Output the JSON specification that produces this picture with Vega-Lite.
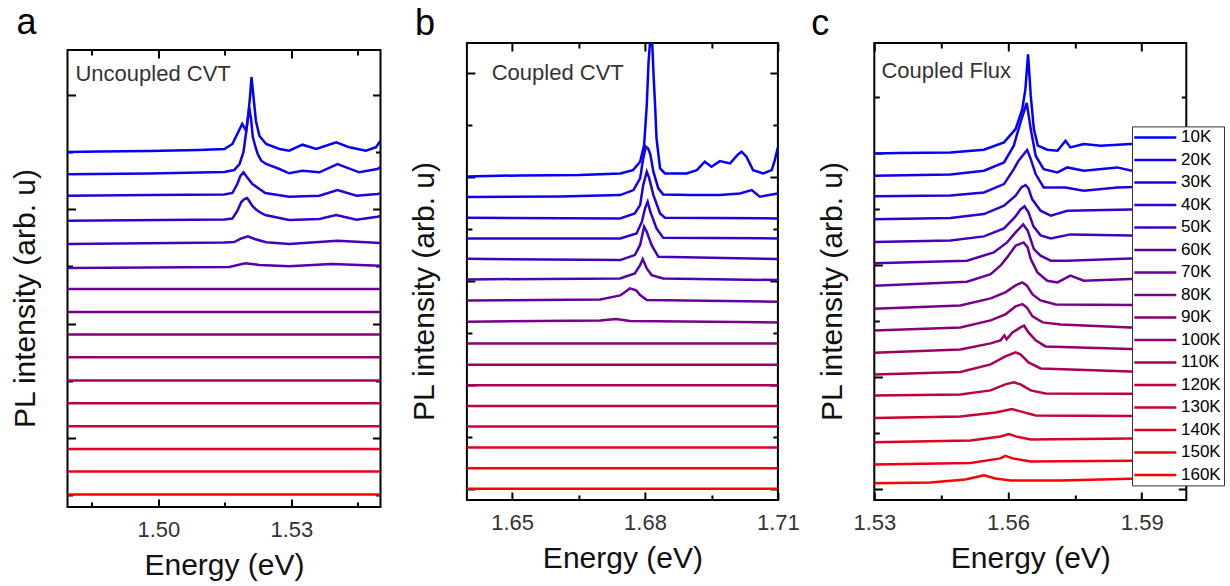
{
"$schema": "https://vega.github.io/schema/vega-lite/v6.json",
"background": "white",
"padding": {"left": 9.5, "top": 4, "right": 0, "bottom": 0},
"spacing": 9.4,
"resolve": {"scale": {"color": "independent"}, "legend": {"color": "independent"}},
"config": {
  "font": "Liberation Sans",
  "view": {"stroke": "black", "strokeWidth": 2},
  "axis": {"domain": false, "grid": false, "tickColor": "black", "tickWidth": 2, "labelFont": "Liberation Sans", "labelFontSize": 22, "labelColor": "#333", "titleFont": "Liberation Sans", "titleFontSize": 30, "titleFontWeight": "normal", "titleColor": "#111", "labelFlush": false, "labelOverlap": false, "labelPadding": 20.4},
  "title": {"font": "Liberation Sans", "fontSize": 36, "fontWeight": "normal", "color": "black", "anchor": "start", "frame": "group"}
},
"datasets": {
"a": [
{"T":"10K","E":1.4795,"v":355},{"T":"10K","E":1.4867,"v":355.5},{"T":"10K","E":1.498,"v":356},{"T":"10K","E":1.5092,"v":357},{"T":"10K","E":1.5149,"v":358},{"T":"10K","E":1.5167,"v":363},{"T":"10K","E":1.5178,"v":373},{"T":"10K","E":1.5189,"v":383},{"T":"10K","E":1.5198,"v":376},{"T":"10K","E":1.5203,"v":393},{"T":"10K","E":1.5207,"v":412},{"T":"10K","E":1.521,"v":430},{"T":"10K","E":1.5215,"v":408},{"T":"10K","E":1.522,"v":386},{"T":"10K","E":1.5228,"v":371},{"T":"10K","E":1.5243,"v":363},{"T":"10K","E":1.5273,"v":358},{"T":"10K","E":1.5295,"v":356.3},{"T":"10K","E":1.5325,"v":362.3},{"T":"10K","E":1.5356,"v":358},{"T":"10K","E":1.5401,"v":364.7},{"T":"10K","E":1.5431,"v":359.7},{"T":"10K","E":1.5468,"v":356.3},{"T":"10K","E":1.5491,"v":359.7},{"T":"10K","E":1.5501,"v":366.3},
{"T":"20K","E":1.4795,"v":332.7},{"T":"20K","E":1.498,"v":333.5},{"T":"20K","E":1.5149,"v":335},{"T":"20K","E":1.5171,"v":337},{"T":"20K","E":1.5183,"v":343},{"T":"20K","E":1.5192,"v":355},{"T":"20K","E":1.5198,"v":375},{"T":"20K","E":1.5205,"v":399.7},{"T":"20K","E":1.5209,"v":388},{"T":"20K","E":1.5213,"v":370},{"T":"20K","E":1.5219,"v":360},{"T":"20K","E":1.5224,"v":353},{"T":"20K","E":1.5232,"v":346.3},{"T":"20K","E":1.5243,"v":343},{"T":"20K","E":1.5273,"v":338},{"T":"20K","E":1.5295,"v":333.7},{"T":"20K","E":1.5325,"v":336.3},{"T":"20K","E":1.5363,"v":334.7},{"T":"20K","E":1.5404,"v":343},{"T":"20K","E":1.5453,"v":334.7},{"T":"20K","E":1.5494,"v":338},{"T":"20K","E":1.5501,"v":340},
{"T":"30K","E":1.4795,"v":311.3},{"T":"30K","E":1.498,"v":312},{"T":"30K","E":1.5149,"v":312.5},{"T":"30K","E":1.5167,"v":314},{"T":"30K","E":1.5178,"v":323},{"T":"30K","E":1.5185,"v":331},{"T":"30K","E":1.5192,"v":334.7},{"T":"30K","E":1.5198,"v":331},{"T":"30K","E":1.5205,"v":327},{"T":"30K","E":1.5212,"v":323},{"T":"30K","E":1.5228,"v":318},{"T":"30K","E":1.5241,"v":314},{"T":"30K","E":1.5295,"v":310.3},{"T":"30K","E":1.5363,"v":311.3},{"T":"30K","E":1.5404,"v":317},{"T":"30K","E":1.5447,"v":311.3},{"T":"30K","E":1.5494,"v":313},{"T":"30K","E":1.5501,"v":313.5},
{"T":"40K","E":1.4795,"v":286.3},{"T":"40K","E":1.5149,"v":287.5},{"T":"40K","E":1.5167,"v":288.5},{"T":"40K","E":1.5178,"v":296},{"T":"40K","E":1.5187,"v":305},{"T":"40K","E":1.5194,"v":308},{"T":"40K","E":1.52,"v":309},{"T":"40K","E":1.5205,"v":306},{"T":"40K","E":1.5212,"v":301},{"T":"40K","E":1.5219,"v":298},{"T":"40K","E":1.5228,"v":295},{"T":"40K","E":1.5241,"v":292},{"T":"40K","E":1.5295,"v":287},{"T":"40K","E":1.5363,"v":288},{"T":"40K","E":1.5401,"v":292},{"T":"40K","E":1.5447,"v":287.3},{"T":"40K","E":1.5494,"v":290.3},{"T":"40K","E":1.5501,"v":291},
{"T":"50K","E":1.4795,"v":263},{"T":"50K","E":1.5149,"v":264.5},{"T":"50K","E":1.5171,"v":265},{"T":"50K","E":1.5187,"v":268.5},{"T":"50K","E":1.5202,"v":270.7},{"T":"50K","E":1.5217,"v":268},{"T":"50K","E":1.5243,"v":264.7},{"T":"50K","E":1.5295,"v":263},{"T":"50K","E":1.5404,"v":266.3},{"T":"50K","E":1.5501,"v":264},
{"T":"60K","E":1.4795,"v":239},{"T":"60K","E":1.516,"v":240},{"T":"60K","E":1.5196,"v":243.7},{"T":"60K","E":1.5228,"v":242},{"T":"60K","E":1.5295,"v":240.7},{"T":"60K","E":1.539,"v":243},{"T":"60K","E":1.5501,"v":241.3},
{"T":"70K","E":1.4795,"v":217.9},{"T":"70K","E":1.5501,"v":217.9},
{"T":"80K","E":1.4795,"v":195.1},{"T":"80K","E":1.5501,"v":195.1},
{"T":"90K","E":1.4795,"v":172.4},{"T":"90K","E":1.5501,"v":172.4},
{"T":"100K","E":1.4795,"v":149.7},{"T":"100K","E":1.5501,"v":149.7},
{"T":"110K","E":1.4795,"v":126.6},{"T":"110K","E":1.5501,"v":126.6},
{"T":"120K","E":1.4795,"v":103.8},{"T":"120K","E":1.5501,"v":103.8},
{"T":"130K","E":1.4795,"v":80.7},{"T":"130K","E":1.5501,"v":80.7},
{"T":"140K","E":1.4795,"v":58},{"T":"140K","E":1.5501,"v":58},
{"T":"150K","E":1.4795,"v":35.6},{"T":"150K","E":1.5501,"v":35.6},
{"T":"160K","E":1.4795,"v":12.5},{"T":"160K","E":1.5501,"v":12.5}
],
"b": [
{"T":"10K","E":1.6398,"v":323.6},{"T":"10K","E":1.6518,"v":324.6},{"T":"10K","E":1.6653,"v":325.1},{"T":"10K","E":1.6744,"v":326.6},{"T":"10K","E":1.6773,"v":329.9},{"T":"10K","E":1.6789,"v":338.3},{"T":"10K","E":1.6798,"v":354.9},{"T":"10K","E":1.6804,"v":394.9},{"T":"10K","E":1.6808,"v":437.6},{"T":"10K","E":1.6812,"v":462},{"T":"10K","E":1.6816,"v":460},{"T":"10K","E":1.6819,"v":428.3},{"T":"10K","E":1.6823,"v":392.6},{"T":"10K","E":1.6826,"v":361.6},{"T":"10K","E":1.6834,"v":331.6},{"T":"10K","E":1.6845,"v":326.6},{"T":"10K","E":1.6894,"v":326.6},{"T":"10K","E":1.6917,"v":329.9},{"T":"10K","E":1.6935,"v":338.3},{"T":"10K","E":1.695,"v":333.3},{"T":"10K","E":1.6969,"v":338.9},{"T":"10K","E":1.6992,"v":336.6},{"T":"10K","E":1.701,"v":345.6},{"T":"10K","E":1.7018,"v":348.3},{"T":"10K","E":1.7029,"v":343.3},{"T":"10K","E":1.7044,"v":329.9},{"T":"10K","E":1.7067,"v":326.6},{"T":"10K","E":1.7086,"v":329.9},{"T":"10K","E":1.7093,"v":339.6},{"T":"10K","E":1.71,"v":352.6},
{"T":"20K","E":1.6398,"v":303},{"T":"20K","E":1.6608,"v":303.6},{"T":"20K","E":1.6744,"v":304.9},{"T":"20K","E":1.6774,"v":309.9},{"T":"20K","E":1.6789,"v":321.6},{"T":"20K","E":1.6796,"v":341.6},{"T":"20K","E":1.6802,"v":353.3},{"T":"20K","E":1.6807,"v":351.6},{"T":"20K","E":1.6812,"v":345.6},{"T":"20K","E":1.6819,"v":328.3},{"T":"20K","E":1.683,"v":311.6},{"T":"20K","E":1.6841,"v":305.6},{"T":"20K","E":1.6902,"v":304.9},{"T":"20K","E":1.6969,"v":304.9},{"T":"20K","E":1.7014,"v":306.6},{"T":"20K","E":1.7041,"v":309.9},{"T":"20K","E":1.7059,"v":303.3},{"T":"20K","E":1.71,"v":306.6},
{"T":"30K","E":1.6398,"v":282.2},{"T":"30K","E":1.6744,"v":281.6},{"T":"30K","E":1.6777,"v":286.6},{"T":"30K","E":1.6789,"v":294.9},{"T":"30K","E":1.6796,"v":314.9},{"T":"30K","E":1.6804,"v":328.3},{"T":"30K","E":1.6809,"v":322.6},{"T":"30K","E":1.6819,"v":304.9},{"T":"30K","E":1.6834,"v":286.6},{"T":"30K","E":1.6845,"v":282.3},{"T":"30K","E":1.71,"v":281.6},
{"T":"40K","E":1.6398,"v":261.6},{"T":"40K","E":1.6744,"v":261.6},{"T":"40K","E":1.6781,"v":266.6},{"T":"40K","E":1.6793,"v":278.3},{"T":"40K","E":1.68,"v":291.6},{"T":"40K","E":1.6806,"v":298.3},{"T":"40K","E":1.6812,"v":288.3},{"T":"40K","E":1.6826,"v":271.6},{"T":"40K","E":1.6841,"v":262.3},{"T":"40K","E":1.71,"v":261.6},
{"T":"50K","E":1.6398,"v":241.2},{"T":"50K","E":1.6744,"v":239.9},{"T":"50K","E":1.6777,"v":244.9},{"T":"50K","E":1.6789,"v":254.9},{"T":"50K","E":1.6798,"v":273.3},{"T":"50K","E":1.6804,"v":268.3},{"T":"50K","E":1.6815,"v":254.9},{"T":"50K","E":1.683,"v":243.3},{"T":"50K","E":1.71,"v":240.9},
{"T":"60K","E":1.6398,"v":220.6},{"T":"60K","E":1.6744,"v":221.6},{"T":"60K","E":1.6777,"v":226.6},{"T":"60K","E":1.6789,"v":234.9},{"T":"60K","E":1.6795,"v":240.9},{"T":"60K","E":1.6804,"v":231.6},{"T":"60K","E":1.6815,"v":224.9},{"T":"60K","E":1.6841,"v":221.6},{"T":"60K","E":1.71,"v":219.9},
{"T":"70K","E":1.6398,"v":199.4},{"T":"70K","E":1.6699,"v":200.6},{"T":"70K","E":1.6744,"v":204.6},{"T":"70K","E":1.6766,"v":211.6},{"T":"70K","E":1.678,"v":209.6},{"T":"70K","E":1.6789,"v":204.9},{"T":"70K","E":1.6804,"v":199.9},{"T":"70K","E":1.71,"v":198.3},
{"T":"80K","E":1.6398,"v":178.2},{"T":"80K","E":1.6699,"v":179.6},{"T":"80K","E":1.6735,"v":181.1},{"T":"80K","E":1.6766,"v":179.1},{"T":"80K","E":1.71,"v":177.6},
{"T":"90K","E":1.6398,"v":156.6},{"T":"90K","E":1.71,"v":156.6},
{"T":"100K","E":1.6398,"v":135.3},{"T":"100K","E":1.71,"v":135.3},
{"T":"110K","E":1.6398,"v":114.8},{"T":"110K","E":1.71,"v":114.8},
{"T":"120K","E":1.6398,"v":94},{"T":"120K","E":1.71,"v":94},
{"T":"130K","E":1.6398,"v":73.5},{"T":"130K","E":1.71,"v":73.5},
{"T":"140K","E":1.6398,"v":52.6},{"T":"140K","E":1.71,"v":52.6},
{"T":"150K","E":1.6398,"v":31.7},{"T":"150K","E":1.71,"v":31.7},
{"T":"160K","E":1.6398,"v":11.2},{"T":"160K","E":1.71,"v":11.2}
],
"c": [
{"T":"10K","E":1.53,"v":346.6},{"T":"10K","E":1.5358,"v":347.1},{"T":"10K","E":1.5471,"v":347.6},{"T":"10K","E":1.5546,"v":350.3},{"T":"10K","E":1.5591,"v":357.6},{"T":"10K","E":1.5617,"v":370.9},{"T":"10K","E":1.5632,"v":390.9},{"T":"10K","E":1.5639,"v":410.9},{"T":"10K","E":1.5645,"v":445.6},{"T":"10K","E":1.5651,"v":404.3},{"T":"10K","E":1.5658,"v":370.9},{"T":"10K","E":1.5667,"v":354.3},{"T":"10K","E":1.5688,"v":350.3},{"T":"10K","E":1.5711,"v":349.3},{"T":"10K","E":1.5729,"v":359.3},{"T":"10K","E":1.574,"v":352.6},{"T":"10K","E":1.577,"v":355.9},{"T":"10K","E":1.5808,"v":354.3},{"T":"10K","E":1.5875,"v":355.9},{"T":"10K","E":1.6,"v":356.6},
{"T":"20K","E":1.53,"v":324.3},{"T":"20K","E":1.5471,"v":325.6},{"T":"20K","E":1.5546,"v":329.3},{"T":"20K","E":1.5591,"v":337.6},{"T":"20K","E":1.5613,"v":354.3},{"T":"20K","E":1.5628,"v":377.6},{"T":"20K","E":1.5642,"v":397},{"T":"20K","E":1.5651,"v":370.9},{"T":"20K","E":1.5662,"v":344.3},{"T":"20K","E":1.568,"v":330.9},{"T":"20K","E":1.5711,"v":327.6},{"T":"20K","E":1.5733,"v":332.6},{"T":"20K","E":1.577,"v":329.3},{"T":"20K","E":1.5845,"v":332.6},{"T":"20K","E":1.5875,"v":329.6},{"T":"20K","E":1.6,"v":329.6},
{"T":"30K","E":1.53,"v":303.8},{"T":"30K","E":1.5471,"v":304.6},{"T":"30K","E":1.5546,"v":307.6},{"T":"30K","E":1.5591,"v":315.9},{"T":"30K","E":1.5613,"v":330.9},{"T":"30K","E":1.5624,"v":339.6},{"T":"30K","E":1.5643,"v":350.1},{"T":"30K","E":1.5651,"v":340.9},{"T":"30K","E":1.5662,"v":325.9},{"T":"30K","E":1.568,"v":312.6},{"T":"30K","E":1.5729,"v":312.6},{"T":"30K","E":1.577,"v":309.3},{"T":"30K","E":1.5845,"v":312.6},{"T":"30K","E":1.6,"v":314.6},
{"T":"40K","E":1.53,"v":280.7},{"T":"40K","E":1.5471,"v":282.1},{"T":"40K","E":1.5546,"v":285.9},{"T":"40K","E":1.5591,"v":294.3},{"T":"40K","E":1.5617,"v":304.3},{"T":"40K","E":1.563,"v":312.6},{"T":"40K","E":1.5639,"v":315},{"T":"40K","E":1.5646,"v":311.6},{"T":"40K","E":1.5654,"v":300.9},{"T":"40K","E":1.5673,"v":289.3},{"T":"40K","E":1.5696,"v":284.3},{"T":"40K","E":1.5733,"v":289.3},{"T":"40K","E":1.5875,"v":290.6},{"T":"40K","E":1.6,"v":290.6},
{"T":"50K","E":1.53,"v":257.9},{"T":"50K","E":1.5471,"v":259.6},{"T":"50K","E":1.5546,"v":263.6},{"T":"50K","E":1.5591,"v":271.6},{"T":"50K","E":1.5615,"v":282.6},{"T":"50K","E":1.5628,"v":290.6},{"T":"50K","E":1.5637,"v":293.6},{"T":"50K","E":1.5646,"v":287.6},{"T":"50K","E":1.5657,"v":273.6},{"T":"50K","E":1.5673,"v":264.6},{"T":"50K","E":1.5696,"v":261.6},{"T":"50K","E":1.574,"v":265.6},{"T":"50K","E":1.5875,"v":264.6},{"T":"50K","E":1.6,"v":264.6},
{"T":"60K","E":1.53,"v":236.7},{"T":"60K","E":1.5508,"v":239.3},{"T":"60K","E":1.5568,"v":247.6},{"T":"60K","E":1.5598,"v":257.6},{"T":"60K","E":1.5617,"v":267.6},{"T":"60K","E":1.5634,"v":275.6},{"T":"60K","E":1.5644,"v":269.6},{"T":"60K","E":1.5658,"v":250.9},{"T":"60K","E":1.5673,"v":244.3},{"T":"60K","E":1.5696,"v":239.3},{"T":"60K","E":1.5733,"v":239.3},{"T":"60K","E":1.5875,"v":241.6},{"T":"60K","E":1.6,"v":241.6},
{"T":"70K","E":1.53,"v":214.3},{"T":"70K","E":1.5508,"v":218.3},{"T":"70K","E":1.5561,"v":225.9},{"T":"70K","E":1.5583,"v":234.3},{"T":"70K","E":1.5598,"v":242.6},{"T":"70K","E":1.5617,"v":254.3},{"T":"70K","E":1.5635,"v":257.6},{"T":"70K","E":1.5644,"v":252.6},{"T":"70K","E":1.5651,"v":240.9},{"T":"70K","E":1.5666,"v":227.6},{"T":"70K","E":1.5688,"v":219.3},{"T":"70K","E":1.5711,"v":217.6},{"T":"70K","E":1.574,"v":224.3},{"T":"70K","E":1.577,"v":219.3},{"T":"70K","E":1.5875,"v":220.9},{"T":"70K","E":1.6,"v":221.6},
{"T":"80K","E":1.53,"v":191.2},{"T":"80K","E":1.5493,"v":194.6},{"T":"80K","E":1.5561,"v":201.6},{"T":"80K","E":1.5594,"v":207.6},{"T":"80K","E":1.5617,"v":214.6},{"T":"80K","E":1.5632,"v":217.6},{"T":"80K","E":1.5642,"v":214.6},{"T":"80K","E":1.5655,"v":205.6},{"T":"80K","E":1.5673,"v":199.6},{"T":"80K","E":1.5707,"v":195.6},{"T":"80K","E":1.5875,"v":195},{"T":"80K","E":1.6,"v":195.6},
{"T":"90K","E":1.53,"v":169.6},{"T":"90K","E":1.5493,"v":172.6},{"T":"90K","E":1.5561,"v":179.6},{"T":"90K","E":1.5594,"v":185.6},{"T":"90K","E":1.5617,"v":193.6},{"T":"90K","E":1.5632,"v":195.9},{"T":"90K","E":1.5642,"v":192.6},{"T":"90K","E":1.5655,"v":183.6},{"T":"90K","E":1.5678,"v":177.6},{"T":"90K","E":1.5718,"v":175.6},{"T":"90K","E":1.5875,"v":172.6},{"T":"90K","E":1.6,"v":172.6},
{"T":"100K","E":1.53,"v":147.2},{"T":"100K","E":1.5493,"v":150.6},{"T":"100K","E":1.5561,"v":156.6},{"T":"100K","E":1.5583,"v":159.6},{"T":"100K","E":1.5592,"v":164.6},{"T":"100K","E":1.5597,"v":160.6},{"T":"100K","E":1.561,"v":167.6},{"T":"100K","E":1.5628,"v":172.6},{"T":"100K","E":1.5636,"v":174.3},{"T":"100K","E":1.5646,"v":167.6},{"T":"100K","E":1.5662,"v":159.6},{"T":"100K","E":1.5684,"v":153.6},{"T":"100K","E":1.5875,"v":151},{"T":"100K","E":1.6,"v":151.6},
{"T":"110K","E":1.53,"v":125.6},{"T":"110K","E":1.5493,"v":128.1},{"T":"110K","E":1.5561,"v":135.6},{"T":"110K","E":1.5594,"v":143.6},{"T":"110K","E":1.5617,"v":147.6},{"T":"110K","E":1.5628,"v":145.6},{"T":"110K","E":1.5646,"v":137.6},{"T":"110K","E":1.5673,"v":131.6},{"T":"110K","E":1.5875,"v":128.6},{"T":"110K","E":1.6,"v":128.6},
{"T":"120K","E":1.53,"v":104.4},{"T":"120K","E":1.5493,"v":105.6},{"T":"120K","E":1.5561,"v":109.6},{"T":"120K","E":1.5594,"v":115.6},{"T":"120K","E":1.5613,"v":117.6},{"T":"120K","E":1.5628,"v":115.6},{"T":"120K","E":1.5651,"v":109.6},{"T":"120K","E":1.5684,"v":106.6},{"T":"120K","E":1.5875,"v":106.2},{"T":"120K","E":1.6,"v":106.6},
{"T":"130K","E":1.53,"v":82},{"T":"130K","E":1.5493,"v":83.6},{"T":"130K","E":1.5572,"v":87.6},{"T":"130K","E":1.5609,"v":90.9},{"T":"130K","E":1.5628,"v":88.6},{"T":"130K","E":1.5662,"v":84.6},{"T":"130K","E":1.5875,"v":83.9},{"T":"130K","E":1.6,"v":84.1},
{"T":"140K","E":1.53,"v":57.8},{"T":"140K","E":1.5516,"v":59.6},{"T":"140K","E":1.5583,"v":63.6},{"T":"140K","E":1.5602,"v":65.9},{"T":"140K","E":1.5617,"v":63.6},{"T":"140K","E":1.5651,"v":60.6},{"T":"140K","E":1.5875,"v":61.6},{"T":"140K","E":1.6,"v":61.6},
{"T":"150K","E":1.53,"v":35.4},{"T":"150K","E":1.5516,"v":37.1},{"T":"150K","E":1.5583,"v":41.6},{"T":"150K","E":1.5594,"v":44.1},{"T":"150K","E":1.561,"v":41.6},{"T":"150K","E":1.5651,"v":38.6},{"T":"150K","E":1.5875,"v":39.2},{"T":"150K","E":1.6,"v":39.6},
{"T":"160K","E":1.53,"v":16.8},{"T":"160K","E":1.5426,"v":17.6},{"T":"160K","E":1.5504,"v":20.6},{"T":"160K","E":1.5546,"v":24.6},{"T":"160K","E":1.5572,"v":21.6},{"T":"160K","E":1.5606,"v":19.6},{"T":"160K","E":1.5718,"v":19.6},{"T":"160K","E":1.5875,"v":21.3},{"T":"160K","E":1.6,"v":21.6}
]
},
"hconcat": [
{"vconcat": [
 {"width": 313, "height": 1,
  "title": {"text": "a", "dx": -51, "offset": -4.5},
  "view": {"stroke": null},
  "data": {"values": [{}]},
  "mark": {"type": "text", "text": ""},
  "encoding": {}},
 {
  "width": 313, "height": 457,
  "data": {"name": "a"},
  "resolve": {"axis": {"x": "independent", "y": "independent"}},
  "layer": [
    {"mark": {"type": "line", "strokeWidth": 2.5, "clip": true},
     "encoding": {
       "x": {"field": "E", "type": "quantitative", "scale": {"domain": [1.4795, 1.5501], "nice": false, "zero": false},
             "axis": {"title": "Energy (eV)", "values": [1.485, 1.5, 1.515, 1.53, 1.545], "labelExpr": "round(datum.value*1000) % 30 == 0 ? format(datum.value, '.2f') : ''", "tickSize": {"condition": {"test": "round(datum.value*1000) % 30 == 0", "value": -8}, "value": -5}, "titlePadding": 7}},
       "y": {"field": "v", "type": "quantitative", "scale": {"domain": [0, 457], "nice": false, "zero": false},
             "axis": {"title": "PL intensity (arb. u)", "labels": false, "values": [11.9, 69.1, 126.3, 183.5, 240.7, 297.9, 355.1, 412.3], "tickSize": {"condition": {"test": "round(datum.index*7) % 2 == 1", "value": -8}, "value": -5}, "titlePadding": 26, "titleY": 248}},
       "color": {"field": "T", "type": "nominal", "scale": {"domain": ["10K","20K","30K","40K","50K","60K","70K","80K","90K","100K","110K","120K","130K","140K","150K","160K"], "range": ["#0000ff","#1100ee","#2200dd","#3300cc","#4400bb","#5500aa","#660099","#770088","#880077","#990066","#aa0055","#bb0044","#cc0033","#dd0022","#ee0011","#ff0000"]}, "legend": null}
     }},
    {"mark": {"type": "point", "opacity": 0, "clip": true},
     "encoding": {
       "x": {"field": "E", "type": "quantitative", "axis": {"orient": "top", "title": null, "labels": false, "values": [1.485, 1.5, 1.515, 1.53, 1.545], "tickSize": {"condition": {"test": "round(datum.value*1000) % 30 == 0", "value": -8}, "value": -5}}},
       "y": {"field": "v", "type": "quantitative", "axis": {"orient": "right", "title": "x", "titleOpacity": 0, "titleFontSize": 10, "titlePadding": 6.3, "labels": false, "values": [11.9, 69.1, 126.3, 183.5, 240.7, 297.9, 355.1, 412.3], "tickSize": {"condition": {"test": "round(datum.index*7) % 2 == 1", "value": -8}, "value": -5}}}
     }},
    {"data": {"values": [{}]},
     "mark": {"type": "text", "align": "left", "baseline": "middle", "fontSize": 22, "color": "#333"},
     "encoding": {"x": {"datum": 1.4813, "type": "quantitative", "axis": null}, "y": {"datum": 433, "type": "quantitative", "axis": null}, "text": {"value": "Uncoupled CVT"}}}
  ]
 }], "spacing": -1},
{"vconcat": [{
  "width": 311, "height": 457,
  "title": {"text": "b", "dx": -52, "offset": -0.5},
  "data": {"name": "b"},
  "resolve": {"axis": {"x": "independent", "y": "independent"}},
  "layer": [
    {"mark": {"type": "line", "strokeWidth": 2.5, "clip": true},
     "encoding": {
       "x": {"field": "E", "type": "quantitative", "scale": {"domain": [1.6398, 1.71], "nice": false, "zero": false},
             "axis": {"title": "Energy (eV)", "values": [1.65, 1.665, 1.68, 1.695, 1.71], "labelExpr": "round(datum.value*1000) % 30 == 0 ? format(datum.value, '.2f') : ''", "tickSize": {"condition": {"test": "round(datum.value*1000) % 30 == 0", "value": -8}, "value": -5}, "titlePadding": 7}},
       "y": {"field": "v", "type": "quantitative", "scale": {"domain": [0, 457], "nice": false, "zero": false},
             "axis": {"title": "PL intensity (arb. u)", "labels": false, "values": [10.6, 62.6, 114.6, 166.6, 218.6, 270.6, 322.6, 374.6, 426.6], "tickSize": {"condition": {"test": "round(datum.index*8) % 2 == 0", "value": -8}, "value": -5}, "titlePadding": 26, "titleY": 248}},
       "color": {"field": "T", "type": "nominal", "scale": {"domain": ["10K","20K","30K","40K","50K","60K","70K","80K","90K","100K","110K","120K","130K","140K","150K","160K"], "range": ["#0000ff","#1100ee","#2200dd","#3300cc","#4400bb","#5500aa","#660099","#770088","#880077","#990066","#aa0055","#bb0044","#cc0033","#dd0022","#ee0011","#ff0000"]}, "legend": null}
     }},
    {"mark": {"type": "point", "opacity": 0, "clip": true},
     "encoding": {
       "x": {"field": "E", "type": "quantitative", "axis": {"orient": "top", "title": null, "labels": false, "values": [1.65, 1.665, 1.68, 1.695, 1.71], "tickSize": {"condition": {"test": "round(datum.value*1000) % 30 == 0", "value": -8}, "value": -5}}},
       "y": {"field": "v", "type": "quantitative", "axis": {"orient": "right", "title": null, "labels": false, "values": [10.6, 62.6, 114.6, 166.6, 218.6, 270.6, 322.6, 374.6, 426.6], "tickSize": {"condition": {"test": "round(datum.index*8) % 2 == 0", "value": -8}, "value": -5}}}
     }},
    {"data": {"values": [{}]},
     "mark": {"type": "text", "align": "left", "baseline": "middle", "fontSize": 22, "color": "#333"},
     "encoding": {"x": {"datum": 1.6454, "type": "quantitative", "axis": null}, "y": {"datum": 426.8, "type": "quantitative", "axis": null}, "text": {"value": "Coupled CVT"}}}
  ]
}]},
{"vconcat": [{
  "width": 312, "height": 457,
  "title": {"text": "c", "dx": -63, "offset": -0.5},
  "data": {"name": "c"},
  "resolve": {"axis": {"x": "independent", "y": "independent"}},
  "layer": [
    {"mark": {"type": "line", "strokeWidth": 2.5, "clip": true},
     "encoding": {
       "x": {"field": "E", "type": "quantitative", "scale": {"domain": [1.53, 1.6], "nice": false, "zero": false},
             "axis": {"title": "Energy (eV)", "values": [1.53, 1.545, 1.56, 1.575, 1.59], "labelExpr": "round(datum.value*1000) % 30 == 0 ? format(datum.value, '.2f') : ''", "tickSize": {"condition": {"test": "round(datum.value*1000) % 30 == 0", "value": -8}, "value": -5}, "titlePadding": 7}},
       "y": {"field": "v", "type": "quantitative", "scale": {"domain": [0, 457], "nice": false, "zero": false},
             "axis": {"title": "PL intensity (arb. u)", "labels": false, "values": [10.6, 66.6, 122.6, 178.6, 234.6, 290.6, 346.6, 402.6], "tickSize": {"condition": {"test": "round(datum.index*7) % 2 == 0", "value": -8}, "value": -5}, "titlePadding": 26, "titleY": 248}},
       "color": {"field": "T", "type": "nominal", "scale": {"domain": ["10K","20K","30K","40K","50K","60K","70K","80K","90K","100K","110K","120K","130K","140K","150K","160K"], "range": ["#0000ff","#1100ee","#2200dd","#3300cc","#4400bb","#5500aa","#660099","#770088","#880077","#990066","#aa0055","#bb0044","#cc0033","#dd0022","#ee0011","#ff0000"]},
                 "legend": {"orient": "none", "legendX": 257.7, "legendY": 83.4, "title": null, "symbolType": "M-1.74,0H6.66", "symbolSize": 100, "symbolStrokeWidth": 2.5, "labelFontSize": 17, "labelFont": "Liberation Sans", "labelColor": "black", "labelOffset": 29.5, "rowPadding": 4.5, "padding": 2.5, "strokeColor": "#333", "fillColor": "white"}}
     }},
    {"mark": {"type": "point", "opacity": 0, "clip": true},
     "encoding": {
       "x": {"field": "E", "type": "quantitative", "axis": {"orient": "top", "title": null, "labels": false, "values": [1.53, 1.545, 1.56, 1.575, 1.59], "tickSize": {"condition": {"test": "round(datum.value*1000) % 30 == 0", "value": -8}, "value": -5}}},
       "y": {"field": "v", "type": "quantitative", "axis": {"orient": "right", "title": null, "labels": false, "values": [10.6, 66.6, 122.6, 178.6, 234.6, 290.6, 346.6, 402.6], "tickSize": {"condition": {"test": "round(datum.index*7) % 2 == 0", "value": -8}, "value": -5}}}
     }},
    {"data": {"values": [{}]},
     "mark": {"type": "text", "align": "left", "baseline": "middle", "fontSize": 22, "color": "#333"},
     "encoding": {"x": {"datum": 1.5316, "type": "quantitative", "axis": null}, "y": {"datum": 428.6, "type": "quantitative", "axis": null}, "text": {"value": "Coupled Flux"}}}
  ]
}], "resolve": {"scale": {"color": "independent"}, "legend": {"color": "independent"}}}
]
}
